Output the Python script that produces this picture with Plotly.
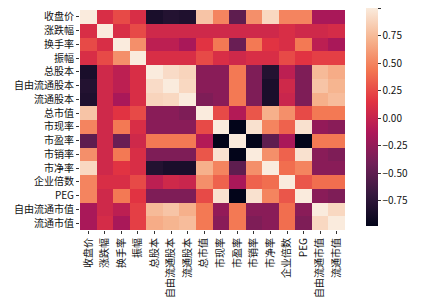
import plotly.graph_objects as go

labels = ["收盘价", "涨跌幅", "换手率", "振幅", "总股本", "自由流通股本", "流通股本", "总市值",
          "市现率", "市盈率", "市销率", "市净率", "企业倍数", "PEG", "自由流通市值", "流通市值"]

corr_values = [
    [1.00, 0.10, 0.25, 0.10, -0.85, -0.80, -0.82, 0.80, 0.50, -0.50, 0.55, 0.90, 0.50, 0.50, -0.15, -0.15],
    [0.10, 1.00, 0.10, 0.25, 0.05, 0.05, 0.05, 0.05, 0.05, 0.05, 0.05, 0.05, 0.10, 0.05, 0.05, 0.08],
    [0.25, 0.10, 1.00, 0.55, -0.05, -0.05, -0.15, 0.15, 0.45, -0.45, 0.45, 0.15, 0.10, 0.45, -0.05, -0.15],
    [0.10, 0.25, 0.55, 1.00, 0.10, 0.10, 0.10, 0.25, 0.10, 0.05, 0.10, 0.10, 0.25, 0.15, 0.20, 0.20],
    [-0.85, 0.05, -0.05, 0.10, 1.00, 0.92, 0.88, -0.30, -0.30, 0.45, -0.35, -0.80, -0.05, -0.35, 0.75, 0.68],
    [-0.80, 0.05, -0.05, 0.10, 0.92, 1.00, 0.90, -0.30, -0.30, 0.45, -0.35, -0.85, 0.05, -0.35, 0.80, 0.72],
    [-0.82, 0.05, -0.15, 0.10, 0.88, 0.90, 1.00, -0.35, -0.30, 0.45, -0.35, -0.85, 0.02, -0.35, 0.70, 0.76],
    [0.80, 0.05, 0.15, 0.25, -0.30, -0.30, -0.35, 1.00, 0.25, -0.10, 0.30, 0.70, 0.55, 0.25, 0.45, 0.45],
    [0.50, 0.05, 0.45, 0.10, -0.30, -0.30, -0.30, 0.25, 1.00, -0.98, 0.95, 0.50, 0.35, 0.95, -0.25, -0.30],
    [-0.50, 0.05, -0.45, 0.05, 0.45, 0.45, 0.45, -0.10, -0.98, 1.00, -0.98, -0.50, -0.15, -0.98, 0.45, 0.45],
    [0.55, 0.05, 0.45, 0.10, -0.35, -0.35, -0.35, 0.30, 0.95, -0.98, 1.00, 0.55, 0.35, 0.95, -0.30, -0.35],
    [0.90, 0.05, 0.15, 0.10, -0.80, -0.85, -0.85, 0.70, 0.50, -0.50, 0.55, 1.00, 0.40, 0.50, -0.30, -0.30],
    [0.50, 0.10, 0.10, 0.25, -0.05, 0.05, 0.02, 0.55, 0.35, -0.15, 0.35, 0.40, 1.00, 0.30, 0.40, 0.40],
    [0.50, 0.05, 0.45, 0.15, -0.35, -0.35, -0.35, 0.25, 0.95, -0.98, 0.95, 0.50, 0.30, 1.00, -0.30, -0.35],
    [-0.15, 0.05, -0.05, 0.20, 0.75, 0.80, 0.70, 0.45, -0.25, 0.45, -0.30, -0.30, 0.40, -0.30, 1.00, 0.90],
    [-0.15, 0.08, -0.15, 0.20, 0.68, 0.72, 0.76, 0.45, -0.30, 0.45, -0.35, -0.30, 0.40, -0.35, 0.90, 1.00],
]

cbar_ticks = [-0.75, -0.5, -0.25, 0.0, 0.25, 0.5, 0.75, 1.0]

rocket = [
    [0.0, "#03051a"], [1/7, "#35193e"], [2/7, "#701f57"], [3/7, "#ad1759"],
    [4/7, "#e13342"], [5/7, "#f37651"], [6/7, "#f6b48f"], [1.0, "#faebdd"],
]

zmin = min(min(r) for r in corr_values)
zmax = max(max(r) for r in corr_values)

font = "Noto Sans CJK SC"

fig = go.Figure(go.Heatmap(
    z=corr_values, x=labels, y=labels,
    colorscale=rocket, zmin=zmin, zmax=zmax,
    xgap=0, ygap=0,
    colorbar=dict(
        x=1.079, xanchor="left", xref="paper", xpad=0,
        y=0.513, yanchor="middle", ypad=0,
        len=218, lenmode="pixels",
        thickness=12, outlinewidth=0,
        tickvals=cbar_ticks,
        ticktext=[f"{v:.2f}".replace("-", "\u2212") for v in cbar_ticks],
        ticks="outside", ticklen=3, tickcolor="#333",
        tickfont=dict(family=font, size=10, color="#111"),
    ),
))

fig.update_layout(
    width=432, height=306,
    margin=dict(l=80, r=87, t=8, b=72),
    paper_bgcolor="white", plot_bgcolor="white",
    font=dict(family=font, size=10, color="#111"),
)
fig.update_xaxes(
    tickangle=-90, ticks="outside", ticklen=3, tickcolor="#333",
    tickfont=dict(family=font, size=10, color="#111"),
    showgrid=False, zeroline=False, showline=False,
)
fig.update_yaxes(
    autorange="reversed", ticks="outside", ticklen=3, tickcolor="#333",
    tickfont=dict(family=font, size=10, color="#111"),
    showgrid=False, zeroline=False, showline=False,
)

fig.write_html("out.html")
